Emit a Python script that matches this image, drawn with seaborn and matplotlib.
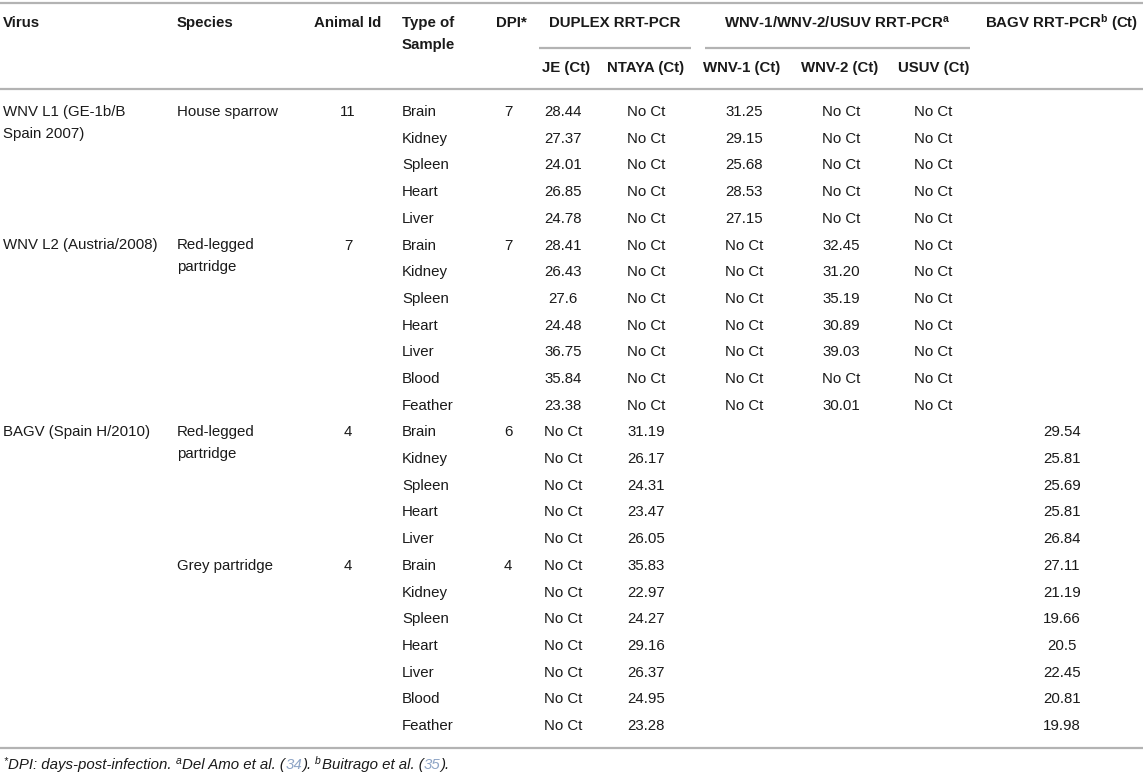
import seaborn as sns
import matplotlib.pyplot as plt

sns.set_theme(style="white")
plt.rcParams['font.family'] = ['Liberation Sans', 'DejaVu Sans']
plt.rcParams['mathtext.fontset'] = 'custom'
plt.rcParams['mathtext.rm'] = 'Liberation Sans'
plt.rcParams['mathtext.bf'] = 'Liberation Sans:bold'
plt.rcParams['mathtext.it'] = 'Liberation Sans:italic'

# ---- table data ----
viruses = ["WNV L1 (GE-1b/B\nSpain 2007)", "WNV L2 (Austria/2008)", "BAGV (Spain H/2010)", ""]
species = ["House sparrow", "Red-legged\npartridge", "Red-legged\npartridge", "Grey partridge"]
animal_ids = ["11", "7", "4", "4"]
dpis = ["7", "7", "6", "4"]

samples = [
    ["Brain", "Kidney", "Spleen", "Heart", "Liver"],
    ["Brain", "Kidney", "Spleen", "Heart", "Liver", "Blood", "Feather"],
    ["Brain", "Kidney", "Spleen", "Heart", "Liver"],
    ["Brain", "Kidney", "Spleen", "Heart", "Liver", "Blood", "Feather"],
]
je_ct = [
    ["28.44", "27.37", "24.01", "26.85", "24.78"],
    ["28.41", "26.43", "27.6", "24.48", "36.75", "35.84", "23.38"],
    ["No Ct"] * 5,
    ["No Ct"] * 7,
]
ntaya_ct = [
    ["No Ct"] * 5,
    ["No Ct"] * 7,
    ["31.19", "26.17", "24.31", "23.47", "26.05"],
    ["35.83", "22.97", "24.27", "29.16", "26.37", "24.95", "23.28"],
]
wnv1_ct = [
    ["31.25", "29.15", "25.68", "28.53", "27.15"],
    ["No Ct"] * 7,
    [""] * 5,
    [""] * 7,
]
wnv2_ct = [
    ["No Ct"] * 5,
    ["32.45", "31.20", "35.19", "30.89", "39.03", "No Ct", "30.01"],
    [""] * 5,
    [""] * 7,
]
usuv_ct = [
    ["No Ct"] * 5,
    ["No Ct"] * 7,
    [""] * 5,
    [""] * 7,
]
bagv_ct = [
    [""] * 5,
    [""] * 7,
    ["29.54", "25.81", "25.69", "25.81", "26.84"],
    ["27.11", "21.19", "19.66", "20.5", "22.45", "20.81", "19.98"],
]
sub_heads = ["JE (Ct)", "NTAYA (Ct)", "WNV-1 (Ct)", "WNV-2 (Ct)", "USUV (Ct)"]
footnote = [("*", "sup", None), ("DPI: days-post-infection. ", "", None),
            ("a", "sup", None), ("Del Amo et al. (", "", None), ("34", "", "link"),
            ("). ", "", None), ("b", "sup", None), ("Buitrago et al. (", "", None),
            ("35", "", "link"), (").", "", None)]

# ---- layout ----
W, H = 1143, 777
fs = 10.8
txt = "#1a1a1a"
link = "#8ea5c6"
rule = "#b3b3b3"
row0, pitch, wrap = 112, 26.7, 22

fig = plt.figure(figsize=(W / 100, H / 100), dpi=100)
ax = fig.add_axes([0, 0, 1, 1])
ax.set_xlim(0, W)
ax.set_ylim(H, 0)
ax.axis("off")


def cell(x, y, s, ha="left", bold=False):
    for k, line in enumerate(s.split("\n")):
        ax.text(x, y + k * wrap, line, ha=ha, va="center", fontsize=fs,
                color=txt, fontweight="bold" if bold else "normal")


# rules
ax.hlines([3, 89, 748], 0, W, color=rule, lw=1.6)
ax.hlines(48, 539, 691, color=rule, lw=1.6)
ax.hlines(48, 705, 970, color=rule, lw=1.6)

# header
cell(3, 23, "Virus", bold=True)
cell(177, 23, "Species", bold=True)
cell(348, 23, "Animal Id", ha="center", bold=True)
cell(402, 23, "Type of\nSample", bold=True)
cell(527, 23, "DPI*", ha="right", bold=True)
cell(615, 23, "DUPLEX RRT-PCR", ha="center", bold=True)
cell(837, 23, r"WNV-1/WNV-2/USUV RRT-PCR$^{\mathbf{a}}$", ha="center", bold=True)
cell(985, 23, r"BAGV RRT-PCR$^{\mathbf{b}}$ (Ct)", bold=True)
sub_x = [566, 646, 742, 840, 934]
for sx, sh in zip(sub_x, sub_heads):
    cell(sx, 68, sh, ha="center", bold=True)

# body
cols = [je_ct, ntaya_ct, wnv1_ct, wnv2_ct, usuv_ct, bagv_ct]
col_x = [563, 646, 744, 841, 933, 1062]
r = 0
for g in range(len(samples)):
    y = row0 + r * pitch
    cell(3, y, viruses[g])
    cell(177, y, species[g])
    cell(348, y, animal_ids[g], ha="center")
    cell(508, y, dpis[g], ha="center")
    for i, s in enumerate(samples[g]):
        yy = row0 + (r + i) * pitch
        cell(402, yy, s)
        for cx, col in zip(col_x, cols):
            cell(cx, yy, col[g][i], ha="center")
    r += len(samples[g])

# footnote: italic pieces laid out one after another on a common baseline
renderer = fig.canvas.get_renderer()
inv = ax.transData.inverted()
x, base = 3, 769
for s, kind, c in footnote:
    sup = kind == "sup"
    t = ax.text(x, base - (5 if sup else 0), s, fontsize=7.5 if sup else fs,
                va="baseline", ha="left", style="italic",
                color=link if c == "link" else txt)
    bb = t.get_window_extent(renderer)
    x = inv.transform((bb.x1, bb.y0))[0] + (1 if sup else 0)

fig.savefig("out.png", dpi=100, facecolor="white")
